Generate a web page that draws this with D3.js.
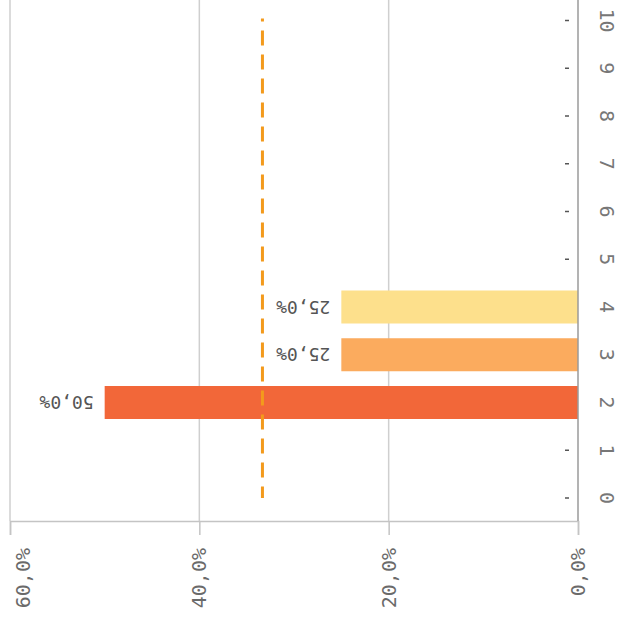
<!DOCTYPE html>
<html>
<head>
<meta charset="utf-8">
<script src="https://cdn.jsdelivr.net/npm/d3@7"></script>
<style>
  body { margin: 0; background: #fff; }
</style>
</head>
<body>
<div id="chart"></div>
<script>
const categories = [0, 1, 2, 3, 4, 5, 6, 7, 8, 9, 10];
const barCats = [2, 3, 4];
const barValues = [0.5, 0.25, 0.25];
const barColors = ['#f26739', '#fbab5e', '#fde08c'];
const valueTicks = [0, 0.2, 0.4, 0.6];
const meanValue = 1 / 3;

var W = 622, H = 624;

var svg = d3.select('#chart').append('svg')
  .attr('width', W)
  .attr('height', H);

// value axis runs right to left, categories bottom to top
var x = d3.scaleLinear().domain([0, 0.6]).range([578, 10]);
var y = d3.scalePoint().domain(categories).range([498, 20.5]);
var fmt = v => d3.format('.1f')(v * 100).replace('.', ',') + '%';

var BAR_H = 33;
var AXIS_Y = 521;
var FONT = 'DejaVu Sans Mono';

// grid
svg.append('g').selectAll('line')
  .data(valueTicks.filter(v => v > 0))
  .enter().append('line')
  .attr('x1', d => x(d)).attr('x2', d => x(d))
  .attr('y1', 0).attr('y2', AXIS_Y)
  .attr('stroke', '#cfcfcf')
  .attr('stroke-width', 1.5);

// bottom axis
var xAxis = svg.append('g')
  .attr('transform', `translate(0,${AXIS_Y})`)
  .call(d3.axisBottom(x).tickValues(valueTicks).tickSize(14).tickFormat(''));
xAxis.select('.domain').attr('stroke', '#c4c4c4').attr('stroke-width', 1.5);
xAxis.selectAll('.tick line').attr('stroke', '#c4c4c4').attr('stroke-width', 1.5);

// keep the leftmost label inside the frame
svg.append('g').selectAll('text')
  .data(valueTicks)
  .enter().append('text')
  .attr('transform', d => `translate(${Math.max(x(d) + 7, 30)},548) rotate(-90)`)
  .attr('text-anchor', 'end')
  .attr('font-family', FONT)
  .attr('font-size', 20)
  .attr('fill', '#6a6a6a')
  .text(fmt);

// bars
svg.append('g').selectAll('rect')
  .data(barValues)
  .enter().append('rect')
  .attr('x', d => x(d))
  .attr('y', (d, i) => y(barCats[i]) - BAR_H / 2)
  .attr('width', d => x(0) - x(d))
  .attr('height', BAR_H)
  .attr('fill', (d, i) => barColors[i]);

// bar labels (upside down)
svg.append('g').selectAll('text')
  .data(barValues)
  .enter().append('text')
  .attr('transform', (d, i) => `translate(${x(d) - 11},${y(barCats[i])}) rotate(180)`)
  .attr('text-anchor', 'start')
  .attr('dy', '0.35em')
  .attr('font-family', FONT)
  .attr('font-size', 18)
  .attr('fill', '#555')
  .text(fmt);

// mean line
svg.append('line')
  .attr('x1', x(meanValue)).attr('x2', x(meanValue))
  .attr('y1', y(10) - 2).attr('y2', y(0))
  .attr('stroke', '#f39a1c')
  .attr('stroke-width', 3)
  .attr('stroke-dasharray', '15,9')
  .attr('stroke-dashoffset', 12);

// category axis
svg.append('line')
  .attr('x1', x(0)).attr('x2', x(0))
  .attr('y1', 0).attr('y2', AXIS_Y)
  .attr('stroke', '#9a9a9a')
  .attr('stroke-width', 1.5);

svg.append('g').selectAll('line')
  .data(categories.filter(c => barCats.indexOf(c) < 0))
  .enter().append('line')
  .attr('x1', 565).attr('x2', 569)
  .attr('y1', d => y(d)).attr('y2', d => y(d))
  .attr('stroke', '#555')
  .attr('stroke-width', 1.5);

svg.append('g').selectAll('text')
  .data(categories)
  .enter().append('text')
  .attr('transform', d => `translate(600,${y(d)}) rotate(90)`)
  .attr('text-anchor', 'middle')
  .attr('font-family', FONT)
  .attr('font-size', 20)
  .attr('fill', '#777')
  .text(d => d);
</script>
</body>
</html>
